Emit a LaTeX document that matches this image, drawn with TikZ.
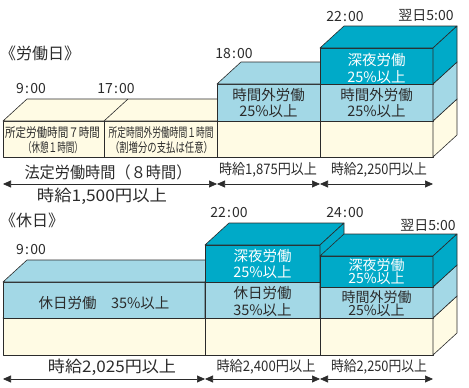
\documentclass[tikz,border=0pt]{standalone}
\usepackage{fontspec}
\setmainfont{Noto Sans CJK JP}
\usetikzlibrary{arrows.meta}
\definecolor{cream}{HTML}{FFFBE4}
\definecolor{lblue}{HTML}{A3D8E6}
\definecolor{deepteal}{HTML}{00AAC8}
\definecolor{ink}{HTML}{2B2B2B}
\newcommand\fitw[2]{\resizebox{#1}{\height}{#2}}
\newcommand\hm[2]{#1\kern1.2pt:\kern1.2pt#2}
\newcommand\blockbox[5]{%
  \filldraw[face,fill=#5] (#1,#2) rectangle (#3,#4);
  \filldraw[face,fill=#5] (#1,#2) -- (#1+24,#2-22) -- (#3+24,#2-22) -- (#3,#2) -- cycle;
  \filldraw[face,fill=#5] (#3,#2) -- (#3+24,#2-22) -- (#3+24,#4-22) -- (#3,#4) -- cycle;}
\begin{document}
\begin{tikzpicture}[x=1pt,y=-1pt,
  face/.style={draw=ink,line width=0.6pt,line join=round},
  lab/.style={inner sep=0pt,text=ink,align=center},
  tm/.style={lab,font=\fontsize{14}{14}\selectfont},
  big/.style={lab,font=\fontsize{16}{16}\selectfont},
  mid/.style={lab,font=\fontsize{14.5}{14.5}\selectfont},
  cell/.style={lab,font=\fontsize{14.5}{16.5}\selectfont},
  tight/.style={lab,font=\fontsize{14}{13}\selectfont},
  small/.style={lab,font=\fontsize{13}{13}\selectfont},
  wht/.style={text=white},
  span/.style={draw=ink,line width=0.7pt,{Triangle[length=8pt,width=7pt]}-{Triangle[length=8pt,width=7pt]}}]
\useasboundingbox (0,0) rectangle (469,388);

% ---------- top diagram: working day ----------
\blockbox{3}{121}{433}{157}{cream}
\draw[face] (104,121) -- (104,157);
\draw[face] (104,121) -- (128,99);
\draw[face] (217,121) -- (217,157);
\draw[face] (320,121) -- (320,157);
\blockbox{217}{84}{433}{121}{lblue}
\draw[face] (320,84) -- (320,121);
\blockbox{320}{48}{433}{84}{deepteal}

\node[big,anchor=west] (hd1) at (0,53) {《労働日》};
\node[tm] (ta) at (31,89) {\hm{9}{00}};
\node[tm] (tb) at (116,89) {\hm{17}{00}};
\node[tm] (tc) at (234,54) {\hm{18}{00}};
\node[tm] (td) at (345,17) {\hm{22}{00}};
\node[tm] (te) at (426,15) {翌日5:00};

\node[small] (s1) at (52.5,133) {\fitw{95pt}{所定労働時間７時間}};
\node[small] (s2) at (53,148) {\fitw{60pt}{（休憩１時間）}};
\node[small] (s3) at (161,133) {\fitw{105pt}{所定時間外労働時間１時間}};
\node[small] (s4) at (161.5,148) {\fitw{103pt}{（割増分の支払は任意）}};
\node[cell] (c1) at (268.5,103) {時間外労働\\25\%以上};
\node[cell,wht] (c2) at (376.5,68.5) {深夜労働\\25\%以上};
\node[cell] (c3) at (376.5,103) {時間外労働\\25\%以上};

\node[big] (w1) at (108,172) {\fitw{167pt}{法定労働時間（８時間）}};
\node[mid] (w2) at (268,170) {\fitw{98pt}{時給1,875円以上}};
\node[mid] (w3) at (379,170) {\fitw{96pt}{時給2,250円以上}};
\node[big] (w4) at (102,196) {\fitw{130pt}{時給1,500円以上}};

\coordinate (a0) at (3,184);
\coordinate (a1) at (217,184);
\coordinate (a2) at (320,184);
\coordinate (a3) at (433,184);
\draw[span] (a0) -- (a1);
\draw[span] (a1) -- (a2);
\draw[span] (a2) -- (a3);

% ---------- bottom diagram: holiday ----------
\blockbox{3}{318}{433}{355}{cream}
\draw[face] (205,318) -- (205,355);
\draw[face] (320,318) -- (320,355);
\blockbox{3}{282}{205}{318}{lblue}
\blockbox{205}{282}{320}{318}{lblue}
\blockbox{205}{245}{320}{282}{deepteal}
\blockbox{320}{287}{433}{318}{lblue}
\blockbox{320}{256}{433}{287}{deepteal}

\node[big,anchor=west] (hd2) at (0,220) {《休日》};
\node[tm] (tf) at (31,250) {\hm{9}{00}};
\node[tm] (tg) at (229,213) {\hm{22}{00}};
\node[tm] (th) at (345,213) {\hm{24}{00}};
\node[tm] (ti) at (428,225) {翌日5:00};

\node[cell] (c4) at (104,303) {休日労働　35\%以上};
\node[cell,wht] (c5) at (262.5,264) {深夜労働\\25\%以上};
\node[cell] (c6) at (262.5,301.5) {休日労働\\35\%以上};
\node[tight,wht] (c7) at (376.5,272) {深夜労働\\25\%以上};
\node[tight] (c8) at (376.5,304) {時間外労働\\25\%以上};

\node[big] (w5) at (112,367) {\fitw{128pt}{時給2,025円以上}};
\node[mid] (w6) at (266,367) {\fitw{99pt}{時給2,400円以上}};
\node[mid] (w7) at (379,367) {\fitw{96pt}{時給2,250円以上}};

\coordinate (b0) at (3,379);
\coordinate (b1) at (205,379);
\coordinate (b2) at (320,379);
\coordinate (b3) at (433,379);
\draw[span] (b0) -- (b1);
\draw[span] (b1) -- (b2);
\draw[span] (b2) -- (b3);
\end{tikzpicture}
\end{document}
